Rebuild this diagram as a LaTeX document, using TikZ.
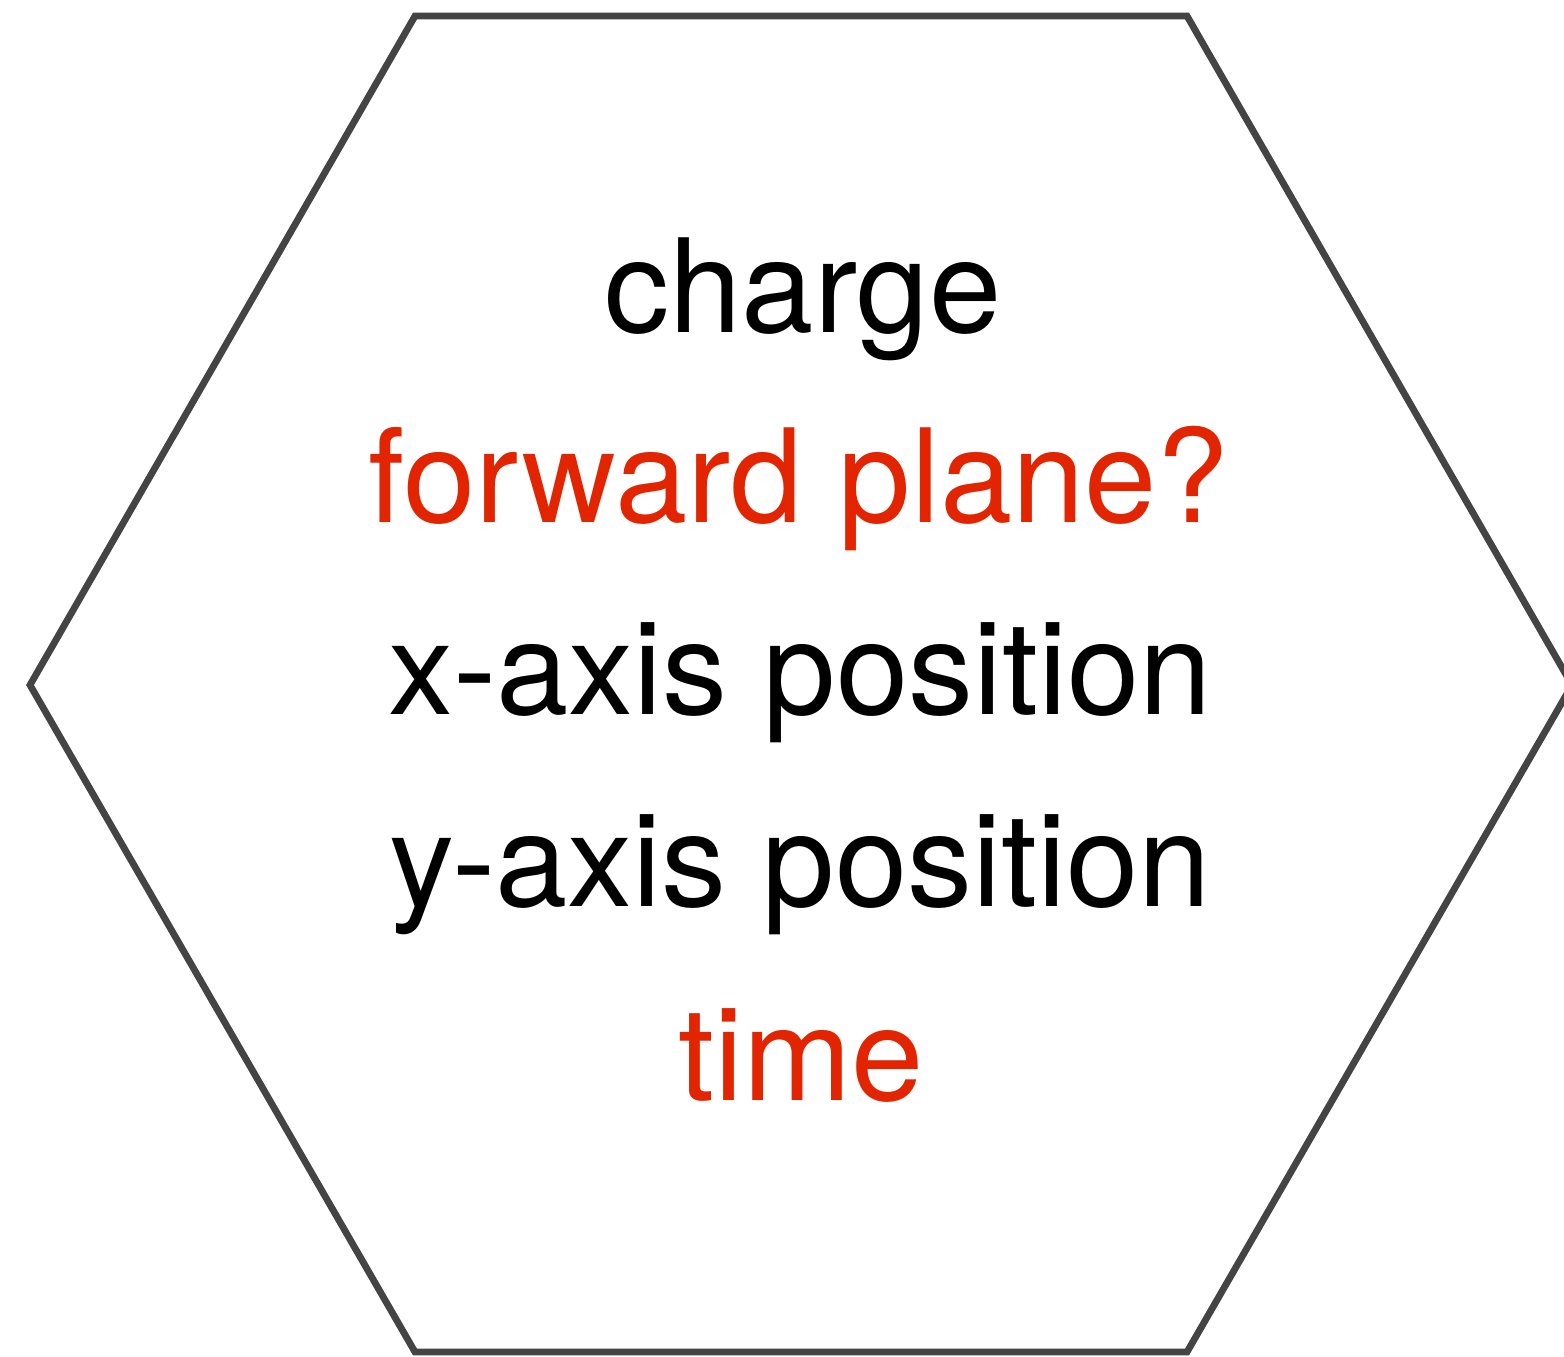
\documentclass[tikz,border=0pt]{standalone}
\usepackage{fontspec}
\setmainfont{TeX Gyre Heros}
\definecolor{hexgray}{HTML}{444444}
\definecolor{txtred}{HTML}{E22400}
\begin{document}
\begin{tikzpicture}[x=0.5pt,y=-0.5pt,
  hexline/.style={draw=hexgray,line width=3.4pt,line join=miter},
  label/.style={anchor=base,inner sep=0pt,font=\fontsize{65}{65}\selectfont},
  redlabel/.style={label,text=txtred}]
\useasboundingbox (0,0) rectangle (1564,1356);
\begin{scope}
\clip (0,0) rectangle (1564,1356);
\coordinate (tl) at (415,16);
\coordinate (tr) at (1187,16);
\coordinate (r) at (1572,685);
\coordinate (br) at (1187,1352);
\coordinate (bl) at (415,1352);
\coordinate (l) at (30,685);
\draw[hexline] (tl) -- (tr) -- (r) -- (br) -- (bl) -- (l) -- cycle;
\end{scope}
\node[label] (charge) at (803,332) {charge};
\node[redlabel] (fwd) at (799,522) {forward plane?};
\node[label] (xpos) at (800,714) {x-axis position};
\node[label] (ypos) at (800,906) {y-axis position};
\node[redlabel] (time) at (801,1100) {time};
\end{tikzpicture}
\end{document}
